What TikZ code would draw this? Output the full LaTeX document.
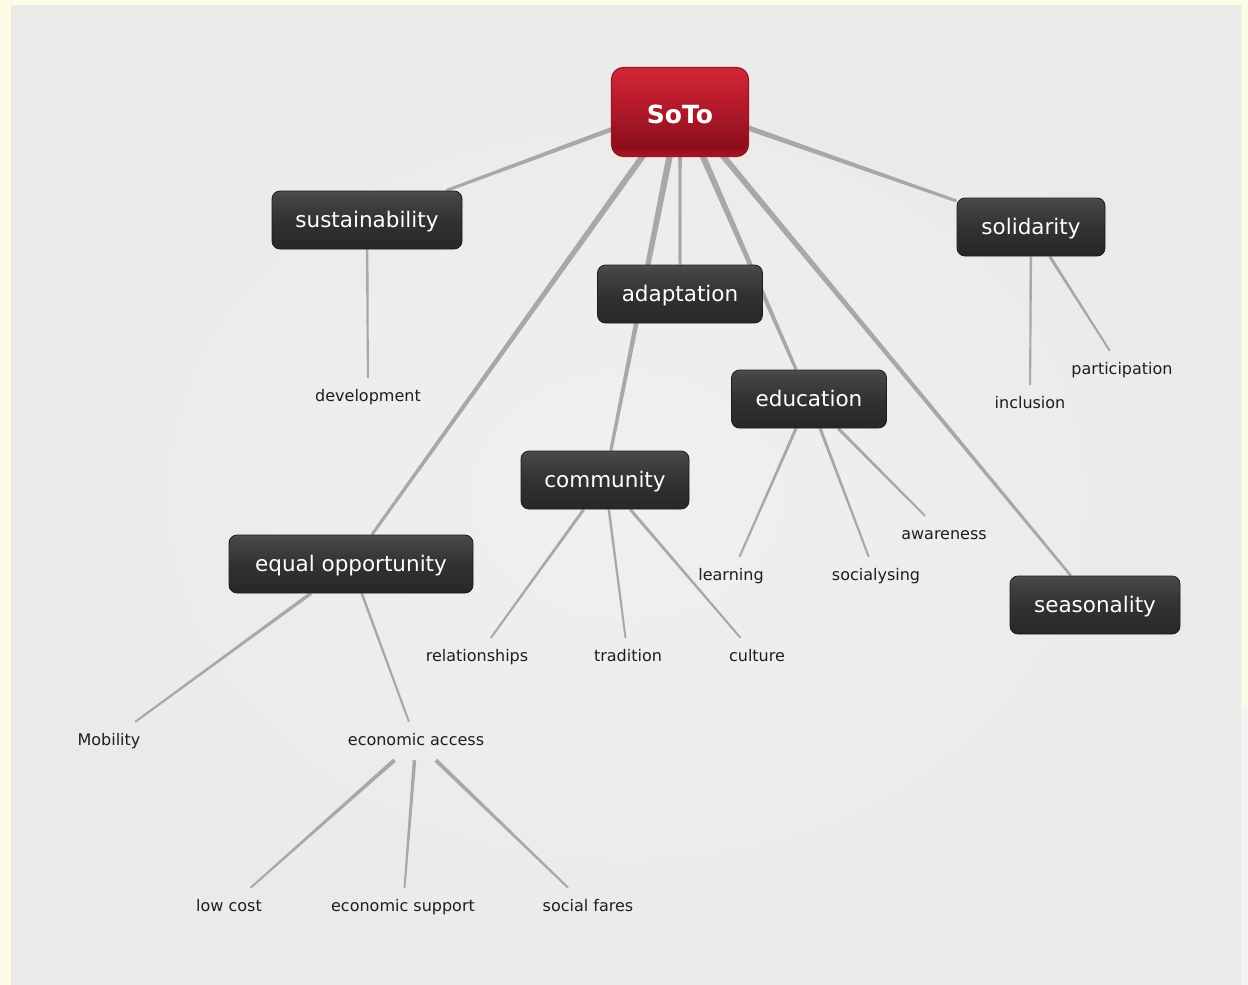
\documentclass[tikz,border=0pt]{standalone}
\usepackage{fontspec}
\setmainfont{DejaVu Sans}
\usetikzlibrary{calc}

\definecolor{cream}{HTML}{FCFBE5}
\definecolor{paleright}{HTML}{F3F3F1}
\definecolor{panel}{HTML}{EAEAE8}
\definecolor{panelhi}{HTML}{F0F0EE}
\definecolor{edgegray}{HTML}{A7A9A9}
\definecolor{labelink}{HTML}{1E1E1E}
\definecolor{boxline}{HTML}{1C1C1C}
\definecolor{rootline}{HTML}{9E1220}

% dark mind-map boxes
\definecolor{dkA}{HTML}{272727}
\definecolor{dkB}{HTML}{323232}
\definecolor{dkC}{HTML}{454545}
\definecolor{dkD}{HTML}{4E4E4E}
\pgfdeclareverticalshading{darkbox}{100bp}{%
  color(0bp)=(dkA); color(25bp)=(dkA); color(50bp)=(dkB);
  color(71bp)=(dkC); color(75bp)=(dkD); color(100bp)=(dkD)}

% red root box
\definecolor{rdA}{HTML}{AC1726}
\definecolor{rdB}{HTML}{8C0E1A}
\definecolor{rdC}{HTML}{A51626}
\definecolor{rdD}{HTML}{C21E2F}
\definecolor{rdE}{HTML}{D02939}
\pgfdeclareverticalshading{rootshade}{100bp}{%
  color(0bp)=(rdA); color(25bp)=(rdA); color(30bp)=(rdB);
  color(45bp)=(rdC); color(62bp)=(rdD); color(75bp)=(rdE); color(100bp)=(rdE)}

\pgfdeclarelayer{background}
\pgfdeclarelayer{edges}
\pgfsetlayers{background,edges,main}

% tapered connector: from #1 (width #3) to #2 (width #4)
\newcommand\taperedge[4]{%
  \path (#1) -- coordinate[pos=0] (tA) coordinate[pos=1] (tB) (#2);
  \fill[edgegray] ($(tA)!#3/2!90:(tB)$) -- ($(tB)!#4/2!-90:(tA)$)
    -- ($(tB)!#4/2!90:(tA)$) -- ($(tA)!#3/2!-90:(tB)$) -- cycle;
}

\tikzset{
  box/.style={shade, shading=darkbox, draw=boxline, line width=0.8pt,
    rounded corners=8pt, text=white, font=\fontsize{21.5}{24}\selectfont,
    minimum height=58pt, inner xsep=0pt, text height=16pt, text depth=2pt},
  root/.style={shade, shading=rootshade, draw=rootline, line width=1.2pt,
    rounded corners=12pt, text=white, font=\bfseries\fontsize{25}{28}\selectfont,
    minimum width=137pt, minimum height=89pt, text height=23pt, text depth=0pt},
  leaf/.style={text=labelink, font=\fontsize{16}{19}\selectfont,
    minimum height=38pt, inner xsep=4pt, inner ysep=0pt,
    text height=12pt, text depth=2.5pt}
}

\begin{document}
\begin{tikzpicture}[x=1pt,y=-1pt]
  \useasboundingbox (0,0) rectangle (1248,985);

  \begin{pgfonlayer}{background}
    \fill[cream] (0,0) rectangle (1248,985);
    \fill[paleright] (1240,707) rectangle (1248,985);
    \shade[inner color=panelhi, outer color=panel] (11,5) rectangle (1241,985);
  \end{pgfonlayer}

  % root and main topics
  \node[root] (soto) at (680,112) {SoTo};
  \coordinate (hub) at (680,104);
  \node[box, minimum width=190pt] (sust) at (367,220) {sustainability};
  \node[box, minimum width=165pt] (adapt) at (680,294) {adaptation};
  \node[box, minimum width=148pt] (solid) at (1031,227) {solidarity};
  \node[box, minimum width=155pt] (educ) at (809,399) {education};
  \node[box, minimum width=168pt] (comm) at (605,480) {community};
  \node[box, minimum width=244pt] (equal) at (351,564) {equal opportunity};
  \node[box, minimum width=170pt] (season) at (1095,605) {seasonality};

  % sub-topics
  \node[leaf] (dev) at (368,397) {development};
  \node[leaf] (incl) at (1030,404) {inclusion};
  \node[leaf] (part) at (1122,370) {participation};
  \node[leaf] (aware) at (944,535) {awareness};
  \node[leaf] (learn) at (731,576) {learning};
  \node[leaf] (social) at (876,576) {socialysing};
  \node[leaf] (rel) at (477,657) {relationships};
  \node[leaf] (trad) at (628,657) {tradition};
  \node[leaf] (cult) at (757,657) {culture};
  \node[leaf] (mob) at (109,741) {Mobility};
  \node[leaf] (econ) at (416,741) {economic access};
  \node[leaf] (low) at (229,907) {low cost};
  \node[leaf] (supp) at (403,907) {economic support};
  \node[leaf] (fares) at (588,907) {social fares};

  \begin{pgfonlayer}{edges}
    \taperedge{hub}{sust}{5.2pt}{3pt}
    \taperedge{hub}{solid}{6pt}{3pt}
    \taperedge{hub}{equal}{6.5pt}{3pt}
    \taperedge{hub}{comm}{7pt}{3.2pt}
    \taperedge{hub}{adapt}{3.8pt}{3pt}
    \taperedge{hub}{educ}{7pt}{3.2pt}
    \taperedge{hub}{season}{6.5pt}{2.5pt}

    \taperedge{sust}{dev}{2.5pt}{2pt}
    \taperedge{solid}{incl}{2.5pt}{2pt}
    \taperedge{solid}{part}{3pt}{2pt}
    \taperedge{educ}{learn}{3pt}{2pt}
    \taperedge{educ}{social}{3pt}{2pt}
    \taperedge{educ}{aware}{3pt}{2pt}
    \taperedge{comm}{rel}{3pt}{2pt}
    \taperedge{comm}{trad}{2.5pt}{2pt}
    \taperedge{comm}{cult}{3pt}{2pt}
    \taperedge{equal}{mob}{3.5pt}{2pt}
    \taperedge{equal}{econ}{2.5pt}{2pt}
    \taperedge{econ}{low}{4pt}{2pt}
    \taperedge{econ}{supp}{3.5pt}{2pt}
    \taperedge{econ}{fares}{4pt}{2pt}
  \end{pgfonlayer}
\end{tikzpicture}
\end{document}
